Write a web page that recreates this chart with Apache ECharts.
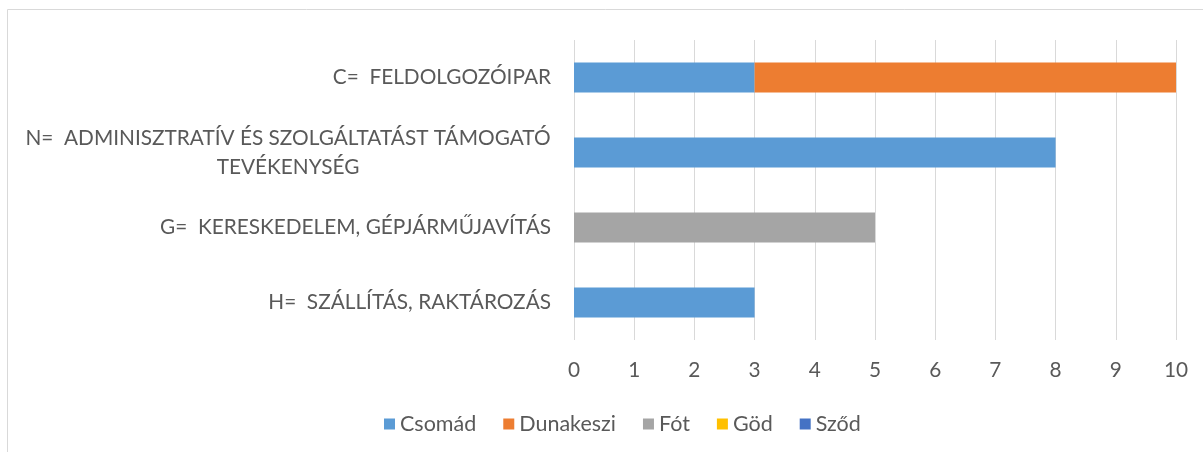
<!DOCTYPE html>
<html>
<head>
<meta charset="utf-8">
<script src="https://cdn.jsdelivr.net/npm/echarts@6/dist/echarts.min.js"></script>
<style>
  html, body { margin: 0; padding: 0; background: #fff; }
  #chart { width: 1203px; height: 452px; }
</style>
</head>
<body>
<div id="chart"></div>
<script>
// categories, top to bottom
const categories = [
  'C=  FELDOLGOZÓIPAR',
  'N=  ADMINISZTRATÍV ÉS SZOLGÁLTATÁST TÁMOGATÓ\nTEVÉKENYSÉG',
  'G=  KERESKEDELEM, GÉPJÁRMŰJAVÍTÁS',
  'H=  SZÁLLÍTÁS, RAKTÁROZÁS'
];
const seriesNames = ['Csomád', 'Dunakeszi', 'Fót', 'Göd', 'Sződ'];
const csomad    = [3, 8, 0, 3];
const dunakeszi = [7, 0, 0, 0];
const fot       = [0, 0, 5, 0];
const god       = [0, 0, 0, 0];
const szod      = [0, 0, 0, 0];
const xTicks = [0, 10, 1]; // min, max, interval

const colors = ['#5b9bd5', '#ed7d31', '#a5a5a5', '#ffc000', '#4472c4'];
const fontFam = 'Lato, sans-serif';
const fs = 20.8;
const textColor = '#595959';

// measure the widest line so wrapped labels are centred like the original
const ctx = document.createElement('canvas').getContext('2d');
ctx.font = fs + 'px ' + fontFam;
function lineWidth(s) { return Math.ceil(ctx.measureText(s).width); }

const myChart = echarts.init(document.getElementById('chart'));
const allData = [csomad, dunakeszi, fot, god, szod];

const option = {
  animation: false,
  color: colors,
  textStyle: { fontFamily: fontFam },
  graphic: [{
    type: 'rect',
    shape: { x: 7.5, y: 9.5, width: 1400, height: 600 },
    style: { fill: 'none', stroke: '#d9d9d9', lineWidth: 1 },
    silent: true,
    z: -1
  }],
  grid: { left: 574, right: 27, top: 40, bottom: 112, containLabel: false },
  xAxis: {
    type: 'value',
    min: xTicks[0], max: xTicks[1], interval: xTicks[2],
    axisLine: { show: false },
    axisTick: { show: false },
    splitLine: { lineStyle: { color: '#d9d9d9', width: 1 } },
    axisLabel: { color: textColor, fontSize: fs, margin: 20, fontFamily: fontFam }
  },
  yAxis: {
    type: 'category',
    data: categories,
    inverse: true,
    axisLine: { show: false },
    axisTick: { show: false },
    axisLabel: {
      color: textColor,
      fontSize: fs,
      fontFamily: fontFam,
      margin: 23,
      lineHeight: 29,
      formatter: function (value) {
        const lines = value.split('\n');
        if (lines.length === 1) return value;
        return lines.map(l => '{c|' + l + '}').join('\n');
      },
      rich: {
        c: {
          width: Math.max.apply(null, categories.join('\n').split('\n').map(lineWidth)),
          align: 'center',
          color: textColor,
          fontSize: fs,
          fontFamily: fontFam,
          lineHeight: 29
        }
      }
    }
  },
  legend: {
    bottom: 12,
    left: 379,
    itemWidth: 11,
    itemHeight: 11,
    itemGap: 27,
    icon: 'rect',
    textStyle: { color: textColor, fontSize: 21.5, fontFamily: fontFam },
    data: seriesNames
  },
  series: seriesNames.map((name, i) => ({
    name: name,
    type: 'bar',
    stack: 'total',
    barWidth: 30,
    data: allData[i],
    itemStyle: { color: colors[i] }
  }))
};

myChart.setOption(option);
</script>
</body>
</html>
